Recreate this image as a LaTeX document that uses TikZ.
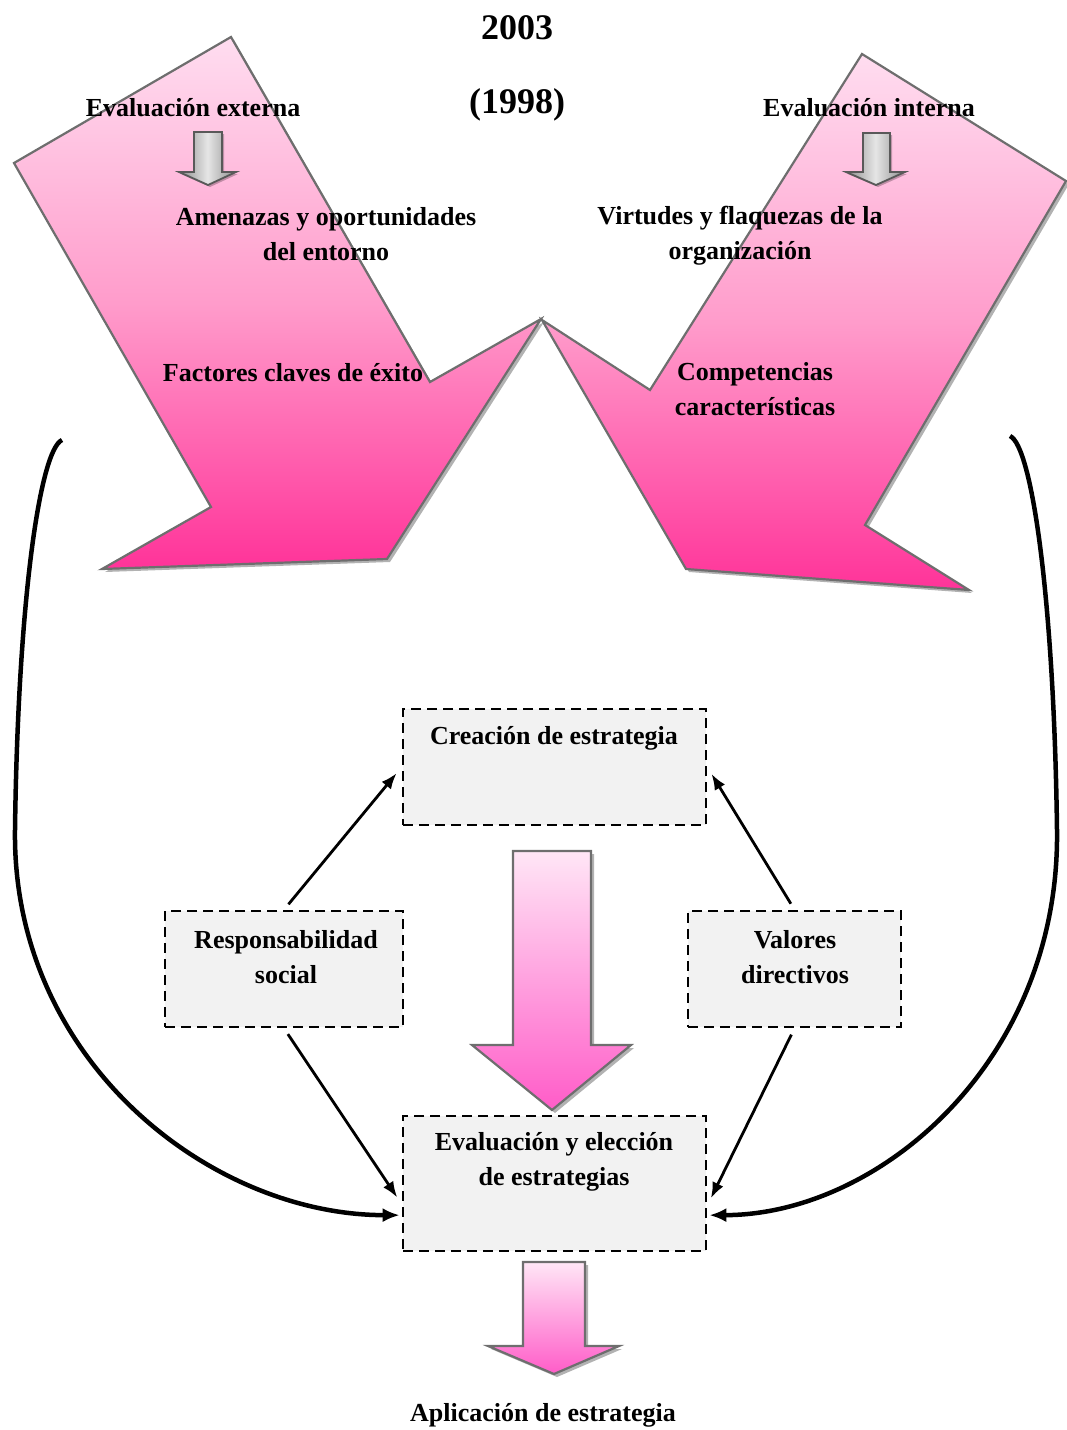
\documentclass[tikz,border=0pt]{standalone}
\usepackage{fontspec}
\setmainfont{Liberation Serif}
\usetikzlibrary{arrows.meta,shadows,calc}
\definecolor{pinklight}{HTML}{FFDDF0}
\definecolor{pinkmid}{HTML}{FF9CCB}
\definecolor{pinkdark}{HTML}{FF3399}
\definecolor{softtop}{HTML}{FFE6F6}
\definecolor{softbot}{HTML}{FF5CC8}
\definecolor{edgegray}{HTML}{6E6E6E}
\definecolor{boxfill}{HTML}{F2F2F2}
\begin{document}
\begin{tikzpicture}[x=1pt,y=-1pt,
  every node/.style={font=\bfseries\fontsize{26}{35}\selectfont,inner sep=0pt,align=center},
  title/.style={font=\bfseries\fontsize{36}{40}\selectfont},
  softshadow/.style={drop shadow={shadow xshift=3pt,shadow yshift=-3pt,fill=black,opacity=.3}},
  bigarrow/.style={draw=edgegray,line width=2.2pt,line join=miter,softshadow,
    top color=pinklight,bottom color=pinkdark,middle color=pinkmid},
  flowarrow/.style={draw=edgegray,line width=2.2pt,line join=miter,softshadow,
    top color=softtop,bottom color=softbot},
  grayarrow/.style={draw=black!65,line width=1.8pt,line join=miter,
    drop shadow={shadow xshift=2pt,shadow yshift=-2pt,fill=black,opacity=.25},
    left color=black!45,right color=black!45,middle color=black!10},
  dashbox/.style={draw=black,fill=boxfill,line width=2.6pt,dash pattern=on 10pt off 6pt,inner sep=0pt},
  link/.style={line width=2.8pt,-{Latex[length=16pt,width=12pt]}},
  loop/.style={line width=4.5pt,-{Latex[length=17pt,width=14pt]}}]

\useasboundingbox (0,0) rectangle (1066,1430);

% large pink arrows of the external and internal evaluation
\path[bigarrow] (231,37) -- (14,163) -- (211,507) -- (102,569) -- (387,559)
  -- (541,319) -- (430,382) -- cycle;
\path[bigarrow] (862,54) -- (1066,181) -- (865,525) -- (969,590) -- (686,569)
  -- (542,320) -- (650,390) -- cycle;

% small grey arrows
\path[grayarrow] (194,132) -- (222,132) -- (222,172) -- (236,172) -- (208,185)
  -- (179,172) -- (194,172) -- cycle;
\path[grayarrow] (863,133) -- (890,133) -- (890,172) -- (905,172) -- (876,185)
  -- (846,172) -- (863,172) -- cycle;

% titles and labels on the large arrows
\node[title] (y2003) at (517,28) {2003};
\node[title] (y1998) at (517,105) {(1998)};
\node (ext) at (193,108) {Evaluación externa};
\node (int) at (869,108) {Evaluación interna};
\node (amen) at (326,234) {Amenazas y oportunidades\\del entorno};
\node (virt) at (740,236) {Virtudes y flaquezas de la\\organización};
\node (fact) at (293,373) {Factores claves de éxito};
\node (comp) at (755,389) {Competencias\\características};

% dashed boxes
\node[dashbox,minimum width=303pt,minimum height=116pt] (create) at (554.5,767) {};
\node[dashbox,minimum width=238pt,minimum height=116pt] (resp) at (284,969) {};
\node[dashbox,minimum width=213pt,minimum height=116pt] (val) at (794.5,969) {};
\node[dashbox,minimum width=303pt,minimum height=135pt] (eval) at (554.5,1183.5) {};

\node (createtxt) at (554,738) {Creación de estrategia};
\node (resptxt) at (286,957) {Responsabilidad\\social};
\node (valtxt) at (795,957) {Valores\\directivos};
\node (evaltxt) at (554,1162) {Evaluación y elección\\de estrategias};

% pink flow arrows between the boxes
\path[flowarrow] (513,851) -- (591,851) -- (591,1045) -- (631,1045) -- (552,1110)
  -- (472,1045) -- (513,1045) -- cycle;
\path[flowarrow] (523,1262) -- (585,1262) -- (585,1346) -- (619,1346) -- (554,1374)
  -- (488,1346) -- (523,1346) -- cycle;

\node (apl) at (543,1415) {Aplicación de estrategia};

% connectors
\coordinate (evalL) at ($(eval.north west)!0.65!(eval.south west)$);
\coordinate (evalR) at ($(eval.north east)!0.66!(eval.south east)$);
\coordinate (evalLL) at ($(eval.north west)!0.73!(eval.south west)$);
\coordinate (evalRR) at ($(eval.north east)!0.73!(eval.south east)$);
\coordinate (startL) at (62,440);
\coordinate (startR) at (1010,436);

\draw[link,shorten <=7pt,shorten >=8pt] (resp.north) -- (create.west);
\draw[link,shorten <=7pt,shorten >=8pt] (val.north) -- (create.east);
\draw[link,shorten <=7pt,shorten >=8pt] (resp.south) -- (evalL);
\draw[link,shorten <=7pt,shorten >=8pt] (val.south) -- (evalR);

\draw[loop,shorten >=2pt] (startL) .. controls (40,450) and (18,600) .. (15,830)
  .. controls (12,1060) and (210,1215) .. (evalLL);
\draw[loop,shorten >=2pt] (startR) .. controls (1032,446) and (1054,600) .. (1057,830)
  .. controls (1060,1060) and (880,1215) .. (evalRR);
\end{tikzpicture}
\end{document}
